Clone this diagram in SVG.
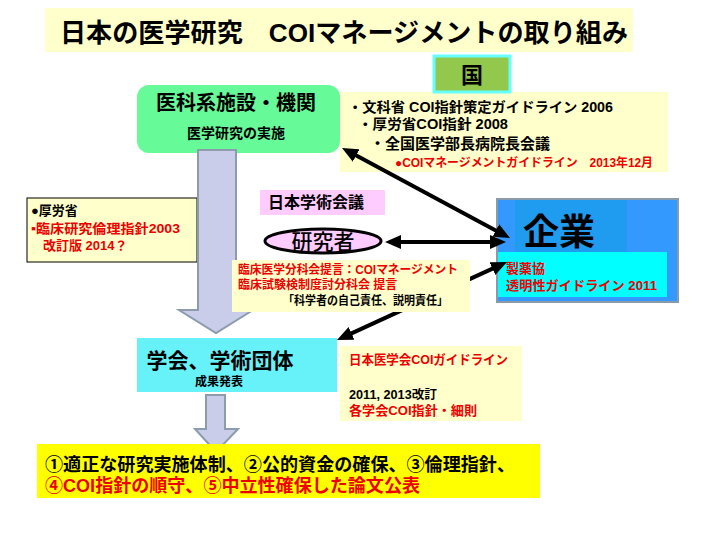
<svg xmlns="http://www.w3.org/2000/svg" width="720" height="540" viewBox="0 0 720 540">
<style>
text{font-family:"Liberation Sans","Noto Sans CJK JP",sans-serif;font-weight:bold;}
.blk{fill:#000;}
.red{fill:#ee0000;}
.ybox{fill:#ffffcc;}
.conn{stroke:#000;stroke-width:4;fill:none;marker-start:url(#ah);marker-end:url(#ah);}
.block{fill:#c9cdea;stroke:#8c9cac;stroke-width:2;}
</style>
<defs>
<marker id="ah" viewBox="0 0 16 14" refX="3" refY="7" markerWidth="16" markerHeight="14" markerUnits="userSpaceOnUse" orient="auto-start-reverse">
<path d="M0,0 L16,7 L0,14 z" fill="#000"/>
</marker>
</defs>
<rect width="720" height="540" fill="#fff"/>

<g id="title">
<rect x="45" y="8" width="588" height="44" class="ybox"/>
<text x="60" y="42" font-size="26" textLength="568" lengthAdjust="spacingAndGlyphs" class="blk">日本の医学研究　COIマネージメントの取り組み</text>
</g>

<g id="kuni-guidelines">
<rect x="340" y="92" width="328" height="80" class="ybox"/>
<text x="348" y="112" font-size="14" textLength="265" lengthAdjust="spacingAndGlyphs" class="blk">・文科省 COI指針策定ガイドライン 2006</text>
<text x="358" y="129" font-size="14" textLength="150" lengthAdjust="spacingAndGlyphs" class="blk">・厚労省COI指針 2008</text>
<text x="370" y="149" font-size="15" class="blk">・全国医学部長病院長会議</text>
<text x="395" y="167" font-size="12" textLength="258" lengthAdjust="spacingAndGlyphs" class="red">●COIマネージメントガイドライン　2013年12月</text>
</g>

<g id="kuni">
<rect x="434" y="56" width="76" height="36" fill="#92c84c" stroke="#66ffff" stroke-width="3"/>
<text x="472" y="83" font-size="22" text-anchor="middle" class="blk">国</text>
</g>

<g id="ika">
<rect x="137" y="85" width="203" height="68" rx="12" fill="#66fa98"/>
<text x="236" y="110" font-size="20" text-anchor="middle" class="blk">医科系施設・機関</text>
<text x="236" y="138" font-size="14" text-anchor="middle" class="blk">医学研究の実施</text>
</g>

<g id="kourou">
<rect x="27" y="198" width="170" height="64" class="ybox" stroke="#000" stroke-width="1"/>
<text x="31" y="215" font-size="13" class="blk">●厚労省</text>
<text x="31" y="233" font-size="13" textLength="149" lengthAdjust="spacingAndGlyphs" class="red">▪臨床研究倫理指針2003</text>
<text x="43" y="250" font-size="13" class="red">改訂版 2014？</text>
</g>

<g id="gakujutsu">
<rect x="260" y="190" width="125" height="25" fill="#ffccff"/>
<text x="268" y="208" font-size="16" class="blk">日本学術会議</text>
</g>

<g id="kenkyusha">
<ellipse cx="323" cy="241" rx="58" ry="12" fill="#ffccff" stroke="#000" stroke-width="3"/>
<text x="323" y="249" font-size="21" text-anchor="middle" class="blk" style="font-weight:500">研究者</text>
</g>

<g id="kigyo">
<rect x="497" y="199" width="181" height="103" fill="#3399ff" stroke="#8a9aa8" stroke-width="2"/>
<rect x="515" y="200" width="112" height="52" fill="#1f9bf0"/>
<rect x="498" y="252" width="169" height="45" fill="#00ffff"/>
<text x="523" y="245" font-size="36" class="blk">企業</text>
<text x="506" y="273" font-size="13" class="red">製薬協</text>
<text x="506" y="290" font-size="13" textLength="151" lengthAdjust="spacingAndGlyphs" class="red">透明性ガイドライン 2011</text>
</g>

<g id="gakkai">
<rect x="137" y="338" width="200" height="54" fill="#66f2f8"/>
<text x="220" y="368" font-size="21" text-anchor="middle" class="blk">学会、学術団体</text>
<text x="219" y="386" font-size="12" text-anchor="middle" class="blk">成果発表</text>
</g>

<g id="igakkai">
<rect x="340" y="346" width="182" height="75" class="ybox"/>
<text x="349" y="364" font-size="13" textLength="159" lengthAdjust="spacingAndGlyphs" class="red">日本医学会COIガイドライン</text>
<text x="349" y="399" font-size="12" textLength="88" lengthAdjust="spacingAndGlyphs" class="blk">2011, 2013改訂</text>
<text x="349" y="415" font-size="13" textLength="128" lengthAdjust="spacingAndGlyphs" class="red">各学会COI指針・細則</text>
</g>

<g id="connectors">
<path class="block" d="M198,150 L236,150 L236,310 L253,310 L216,333 L179,310 L198,310 Z"/>
<path class="block" d="M206,395 L225,395 L225,429 L238,429 L216,452 L195,429 L206,429 Z"/>
<line class="conn" x1="353.5" y1="154.1" x2="498.5" y2="231.9"/>
<line class="conn" x1="398" y1="242" x2="493" y2="242"/>
<line class="conn" x1="495.2" y1="267.4" x2="348.8" y2="334.6"/>
</g>

<g id="rinsho">
<rect x="232" y="260" width="238" height="52" class="ybox"/>
<text x="238" y="274" font-size="12" textLength="220" lengthAdjust="spacingAndGlyphs" class="red">臨床医学分科会提言：COIマネージメント</text>
<text x="238" y="289" font-size="12" class="red">臨床試験検制度討分科会 提言</text>
<text x="283" y="305" font-size="12" textLength="165" lengthAdjust="spacingAndGlyphs" class="blk">「科学者の自己責任、説明責任」</text>
</g>

<g id="summary">
<rect x="37" y="444" width="503" height="54" fill="#ffff00"/>
<text x="45" y="471" font-size="18" textLength="470" lengthAdjust="spacingAndGlyphs" class="blk">①適正な研究実施体制、②公的資金の確保、③倫理指針、</text>
<text x="45" y="492" font-size="18" textLength="375" lengthAdjust="spacingAndGlyphs" class="red">④COI指針の順守、⑤中立性確保した論文公表</text>
</g>
</svg>
